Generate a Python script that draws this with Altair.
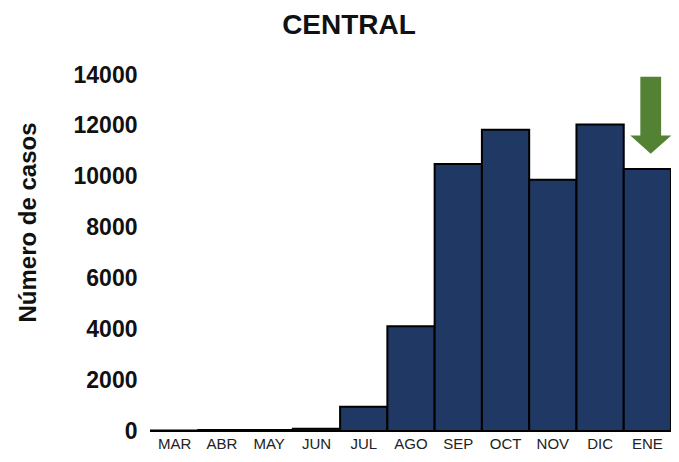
import altair as alt
import pandas as pd

months = ["MAR", "ABR", "MAY", "JUN", "JUL", "AGO", "SEP", "OCT", "NOV", "DIC", "ENE"]
cases = [15, 40, 40, 90, 950, 4120, 10500, 11850, 9880, 12050, 10300]

arrow_month = ["ENE"]
arrow_level = [12420]

df = pd.DataFrame({"mes": months, "casos": cases})
arrow_df = pd.DataFrame({"mes": arrow_month, "nivel": arrow_level})

FONT = "Liberation Sans"

xscale = alt.Scale(domain=months, paddingInner=0, paddingOuter=0)
yscale = alt.Scale(domain=[0, 14000])

bars = alt.Chart(df).mark_bar(
    color="#203864", stroke="black", strokeWidth=2
).encode(
    x=alt.X("mes:N", sort=months, scale=xscale,
            axis=alt.Axis(title=None, labelAngle=0, ticks=False, labelFont=FONT,
                          labelFontSize=15, labelColor="#222", labelPadding=5,
                          domainColor="#cccccc", domainWidth=1)),
    y=alt.Y("casos:Q", scale=yscale,
            axis=alt.Axis(title="Número de casos", values=list(range(0, 14001, 2000)),
                          format="d",
                          grid=False, domain=False, ticks=False, labelFont=FONT,
                          labelFontSize=23, labelFontWeight="bold", labelColor="#111",
                          labelPadding=14, titleFont=FONT, titleFontSize=24,
                          titleFontWeight="bold", titleColor="#111",
                          titleX=-123, titleY=147, titleAngle=270,
                          titleAlign="center", titleBaseline="middle")),
)

arrow_path = "M-0.27,-1 L0.27,-1 L0.27,0.53 L0.53,0.53 L0,1 L-0.53,0.53 L-0.27,0.53 Z"
arrow = alt.Chart(arrow_df).mark_point(
    shape=arrow_path, filled=True, color="#548235", opacity=1, size=5929, strokeWidth=0
).encode(
    x=alt.X("mes:N", sort=months, scale=xscale),
    y=alt.Y("nivel:Q", scale=yscale),
    xOffset=alt.value(27),
)

chart = alt.layer(bars, arrow).properties(
    width=520, height=356,
    title=alt.TitleParams("CENTRAL", font=FONT, fontSize=28, fontWeight="bold",
                          color="#111", anchor="middle", dx=-62, offset=24),
    autosize=alt.AutoSizeParams(type="none"),
    padding={"left": 143, "top": 67, "right": 0, "bottom": 23},
).configure_view(stroke=None)

chart.save("out.html", embed_options={"renderer": "svg", "actions": False})
